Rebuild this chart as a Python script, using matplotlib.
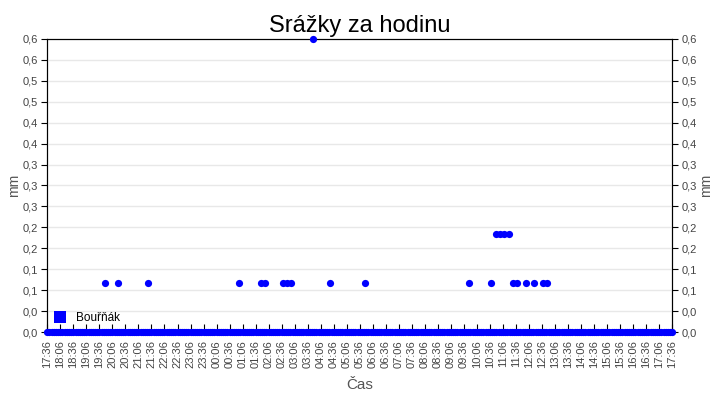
import matplotlib.pyplot as plt
import matplotlib.dates as mdates
from matplotlib.ticker import FuncFormatter
import numpy as np
import pandas as pd

plt.rcParams['font.family'] = ['Liberation Sans', 'DejaVu Sans']

START = "2024-06-01 17:36"
END = "2024-06-02 17:36"

# rain readings (mm), all other samples are 0
rain_times = [
    "2024-06-01 19:49", "2024-06-01 20:18", "2024-06-01 21:28",
    "2024-06-02 00:58", "2024-06-02 01:48", "2024-06-02 01:58",
    "2024-06-02 02:38", "2024-06-02 02:48", "2024-06-02 02:58",
    "2024-06-02 03:49", "2024-06-02 04:28", "2024-06-02 05:49",
    "2024-06-02 09:48", "2024-06-02 10:39", "2024-06-02 10:49",
    "2024-06-02 10:59", "2024-06-02 11:09", "2024-06-02 11:19",
    "2024-06-02 11:29", "2024-06-02 11:39", "2024-06-02 11:59",
    "2024-06-02 12:18", "2024-06-02 12:38", "2024-06-02 12:48",
]
rain_values = [
    0.1, 0.1, 0.1,
    0.1, 0.1, 0.1,
    0.1, 0.1, 0.1,
    0.6, 0.1, 0.1,
    0.1, 0.1, 0.2,
    0.2, 0.2, 0.2,
    0.1, 0.1, 0.1,
    0.1, 0.1, 0.1,
]

# dry samples every 5 minutes across the whole day
base_times = pd.date_range(START, END, freq="5min")
base_values = np.zeros(len(base_times))

t = pd.to_datetime(list(base_times) + rain_times)
v = np.concatenate([base_values, rain_values])

fig = plt.figure(figsize=(7.2, 4.0), dpi=100)
ax = fig.add_axes([0.0657, 0.17, 0.868, 0.7325])

ax.plot(t, v, linestyle="none", marker="o", markersize=5.2, markeredgewidth=0,
        color="#0000ff", clip_on=False, zorder=6, label="Bouřňák")

ax.set_xlim(pd.Timestamp(START), pd.Timestamp(END))
ax.set_ylim(0, 0.6)
yt = np.linspace(0, 0.6, 15)
ax.set_yticks(yt)
fmt = FuncFormatter(lambda val, pos: f"{val:.1f}".replace(".", ","))
ax.yaxis.set_major_formatter(fmt)

xt = pd.date_range(START, END, freq="30min")
ax.set_xticks(xt)
ax.xaxis.set_major_formatter(mdates.DateFormatter("%H:%M"))
ax.tick_params(axis="x", rotation=90, labelsize=8, labelcolor="#444444",
               direction="in", length=5.5, pad=6)
ax.tick_params(axis="y", labelsize=8, labelcolor="#444444", length=4, pad=3)

ax.grid(axis="y", color="#e8e8e8", linewidth=1)
ax.set_axisbelow(True)
for s in ax.spines.values():
    s.set_color("black")

ax2 = ax.twinx()
ax2.set_ylim(ax.get_ylim())
ax2.set_yticks(yt)
ax2.yaxis.set_major_formatter(fmt)
ax2.tick_params(axis="y", labelsize=8, labelcolor="#444444", length=4, pad=3)
ax2.set_ylabel("mm", fontsize=10, color="#555555", labelpad=1)
ax2.set_zorder(ax.get_zorder() - 1)
ax.patch.set_visible(False)

ax.set_ylabel("mm", fontsize=10, color="#555555", labelpad=1)
ax.set_xlabel("Čas", fontsize=11, color="#555555", labelpad=7)
ax.set_title("Srážky za hodinu", fontsize=17, pad=5)

ax.legend(loc="lower left", frameon=False, fontsize=8.5,
          handlelength=0.8, handletextpad=0.9, borderaxespad=0.0,
          bbox_to_anchor=(0.006, 0.012))
leg = ax.get_legend()
for h in leg.legend_handles:
    h.set_marker("s")
    h.set_markersize(8.5)

fig.savefig("out.png", dpi=100)
